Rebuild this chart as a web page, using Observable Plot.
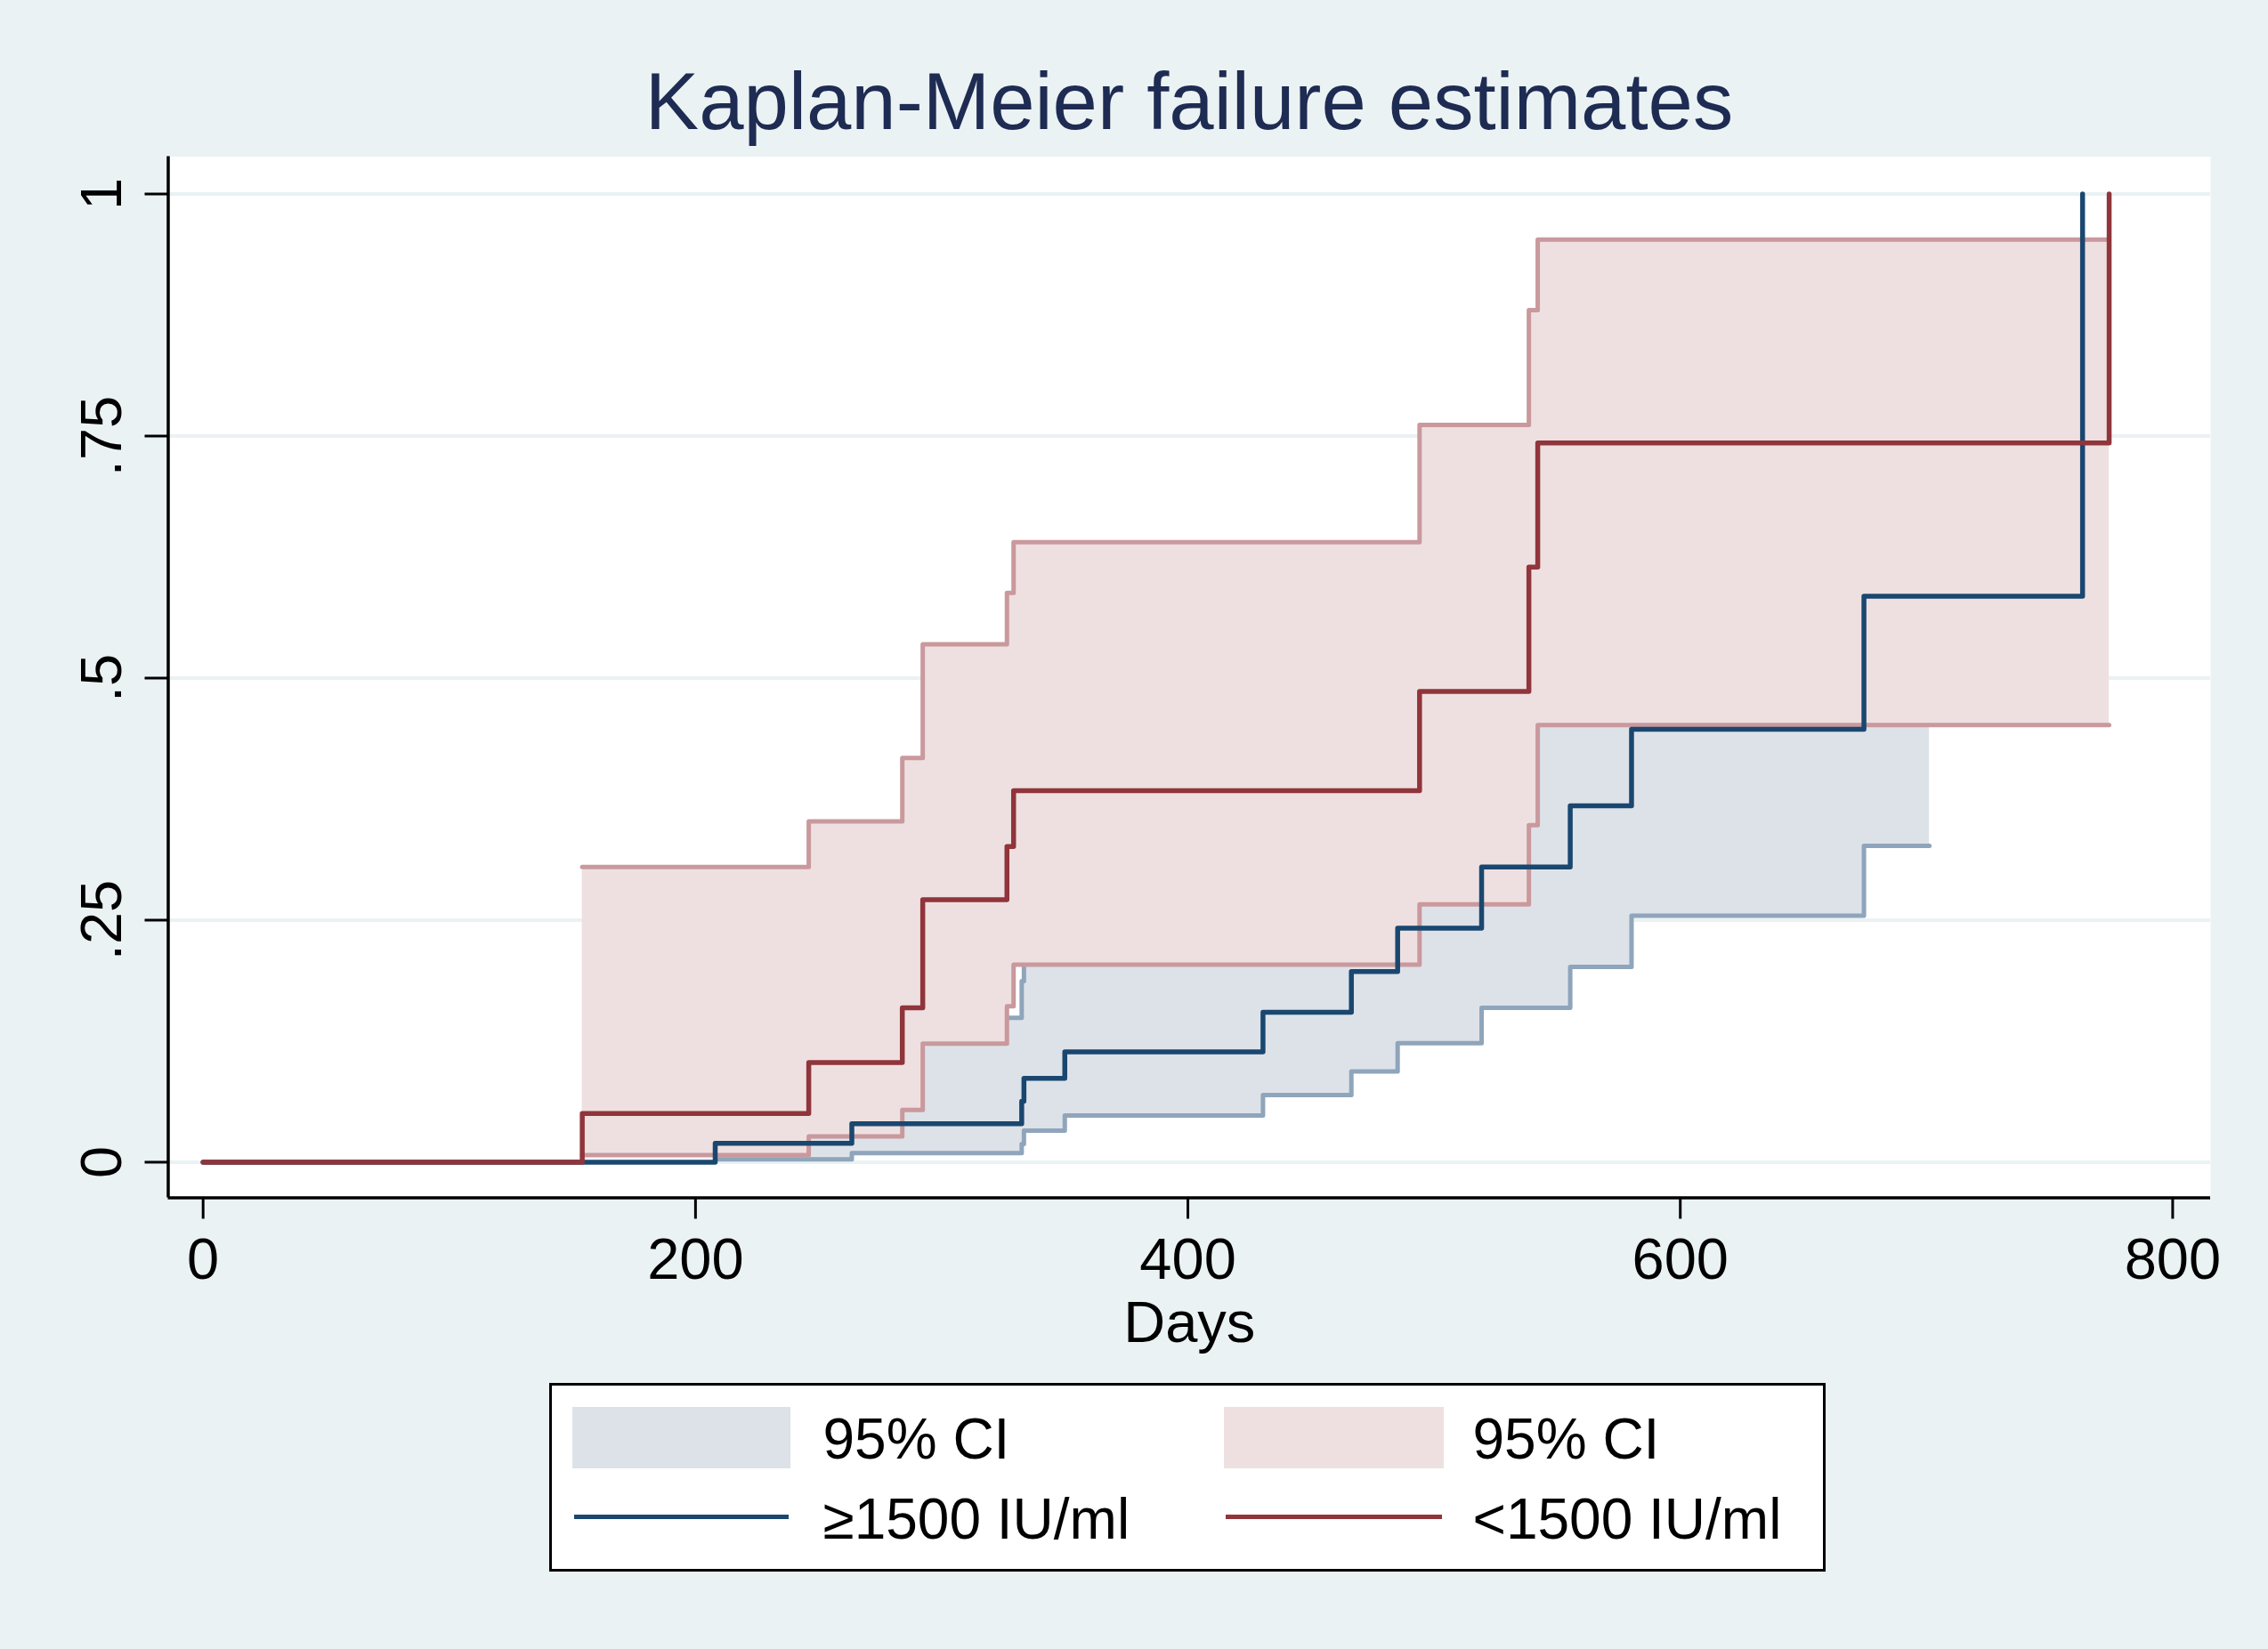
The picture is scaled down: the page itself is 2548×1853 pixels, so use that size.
<!DOCTYPE html>
<html>
<head>
<meta charset="utf-8">
<script src="https://cdn.jsdelivr.net/npm/d3@7"></script>
<script src="https://cdn.jsdelivr.net/npm/@observablehq/plot@0.6"></script>
<style>
html,body{margin:0;padding:0;background:#eaf2f3;}
#page{position:relative;width:2548px;height:1853px;background:#eaf2f3;overflow:hidden;font-family:"Liberation Sans",Arial,Helvetica,sans-serif;}
#title{position:absolute;left:1336px;top:68.8px;transform:translateX(-50%);font-size:90.5px;line-height:1;color:#1e2b52;white-space:nowrap;}
#chart{position:absolute;left:0;top:160px;}
#legend{position:absolute;left:617px;top:1554px;width:1434px;height:212px;box-sizing:border-box;border:3.5px solid #000;background:#fff;}
.sw{position:absolute;}
.lt{position:absolute;font-size:64px;line-height:1;color:#000;white-space:nowrap;}
</style>
</head>
<body>
<div id="page">
  <div id="title">Kaplan-Meier failure estimates</div>
  <div id="chart"></div>
  <div id="legend"></div>
</div>
<script>
// ---- axis ticks ----
const xTicks = [0, 200, 400, 600, 800];
const yTicks = [0, 0.25, 0.5, 0.75, 1];
const yTickLabels = ["0", ".25", ".5", ".75", "1"];

// ---- legend labels ----
const legendCI = "95% CI";
const groupLabels = ["\u22651500 IU/ml", "<1500 IU/ml"];

// ---- group ≥1500 IU/ml : failure estimate ----
const hiTime = [0, 208, 263.5, 332.5, 333.4, 350, 430.5, 466.4, 485.2, 519.3, 555.3, 580.2, 674.6, 763.4];
const hiFail = [0, 0.0196, 0.0398, 0.063, 0.0867, 0.114, 0.1548, 0.197, 0.2416, 0.305, 0.368, 0.4472, 0.5845, 1];
// ---- group ≥1500 IU/ml : 95% CI ----
const hiCiTime = [208, 263.5, 332.5, 333.4, 350, 430.5, 466.4, 485.2, 519.3, 555.3, 580.2, 674.6, 701.2];
const hiLower  = [0.003, 0.0095, 0.0187, 0.0327, 0.0482, 0.0693, 0.0938, 0.1229, 0.1595, 0.2017, 0.2545, 0.3268, 0.3268];
const hiUpper  = [0.13, 0.149, 0.187, 0.24, 0.28, 0.33, 0.38, 0.43, 0.50, 0.57, 0.64, 0.78, 0.78];

// ---- group <1500 IU/ml : failure estimate ----
const loTime = [0, 154, 246, 284, 292.3, 326.5, 329.2, 494.1, 538.5, 542.1, 774.2];
const loFail = [0, 0.0502, 0.103, 0.1595, 0.271, 0.326, 0.3837, 0.4862, 0.6147, 0.7429, 1];
// ---- group <1500 IU/ml : 95% CI ----
const loCiTime = [154, 246, 284, 292.3, 326.5, 329.2, 494.1, 538.5, 542.1, 774.2];
const loLower  = [0.0073, 0.0266, 0.054, 0.1225, 0.161, 0.204, 0.2664, 0.348, 0.4516, 0.4516];
const loUpper  = [0.305, 0.352, 0.4175, 0.535, 0.588, 0.6404, 0.7614, 0.880, 0.953, 0.953];

const colors = {
  hiLine: "#1a476f", loLine: "#90353b",
  hiFill: "#dde2e9", loFill: "#eee0e1",
  hiCiLine: "#8fa5bb", loCiLine: "#c9999d",
  grid: "#eaf2f3"
};

const hiEst = hiTime.map((t, i) => ({t, v: hiFail[i]}));
const loEst = loTime.map((t, i) => ({t, v: loFail[i]}));
const hiCI = hiCiTime.map((t, i) => ({t, lo: hiLower[i], hi: hiUpper[i]}));
const loCI = loCiTime.map((t, i) => ({t, lo: loLower[i], hi: loUpper[i]}));

const xDomain = [-14.17, 815.4];
const yDomain = [-0.0368, 1.0386];

const chart = Plot.plot({
  width: 2548,
  height: 1370,
  marginLeft: 188.5,
  marginRight: 65,
  marginTop: 15.5,
  marginBottom: 184.5,
  style: {background: "transparent", fontFamily: "'Liberation Sans', Arial, Helvetica, sans-serif", fontSize: "64px", color: "#000"},
  x: {domain: xDomain},
  y: {domain: yDomain},
  marks: [
    Plot.frame({fill: "white", stroke: "none"}),
    Plot.gridY(yTicks, {stroke: colors.grid, strokeOpacity: 1, strokeWidth: 4}),
    Plot.areaY(hiCI, {x: "t", y1: "lo", y2: "hi", curve: "step-after", fill: colors.hiFill}),
    Plot.line(hiCI, {x: "t", y: "lo", curve: "step-after", stroke: colors.hiCiLine, strokeWidth: 5}),
    Plot.line(hiCI, {x: "t", y: "hi", curve: "step-after", stroke: colors.hiCiLine, strokeWidth: 5}),
    Plot.areaY(loCI, {x: "t", y1: "lo", y2: "hi", curve: "step-after", fill: colors.loFill}),
    Plot.line(loCI, {x: "t", y: "lo", curve: "step-after", stroke: colors.loCiLine, strokeWidth: 5}),
    Plot.line(loCI, {x: "t", y: "hi", curve: "step-after", stroke: colors.loCiLine, strokeWidth: 5}),
    Plot.line(hiEst, {x: "t", y: "v", curve: "step-after", stroke: colors.hiLine, strokeWidth: 5.5}),
    Plot.line(loEst, {x: "t", y: "v", curve: "step-after", stroke: colors.loLine, strokeWidth: 5.5}),
    Plot.ruleX([xDomain[0]], {stroke: "#000", strokeWidth: 3.5}),
    Plot.ruleY([yDomain[0]], {stroke: "#000", strokeWidth: 3.5}),
    Plot.axisX({ticks: xTicks, tickSize: 24, tickPadding: 20.5, tickFormat: d => String(d), label: null, fontSize: 65, strokeWidth: 3}),
    Plot.axisY({ticks: yTicks, tickSize: 26, tickFormat: () => "", label: null, strokeWidth: 3}),
    Plot.text(yTicks, {y: d => d, text: (d, i) => yTickLabels[i], frameAnchor: "left", dx: -53.5, rotate: -90, lineAnchor: "bottom", textAnchor: "middle", fontSize: 65, fill: "#000"}),
    Plot.text(["Days"], {text: d => d, frameAnchor: "bottom", dy: 161.5, lineAnchor: "bottom", fontSize: 65, fill: "#000"})
  ]
});
document.getElementById("chart").appendChild(chart);

// ---- legend (HTML, below the plot) ----
const legend = document.getElementById("legend");
function add(cls, style, text) {
  const el = document.createElement("div");
  el.className = cls;
  Object.assign(el.style, style);
  if (text != null) el.textContent = text;
  legend.appendChild(el);
}
add("sw", {left: "22.5px", top: "23.5px", width: "245px", height: "69px", background: colors.hiFill});
add("sw", {left: "754.5px", top: "23.5px", width: "247px", height: "69px", background: colors.loFill});
add("sw", {left: "24.5px", top: "144.5px", width: "241px", height: "5.5px", background: colors.hiLine});
add("sw", {left: "756.5px", top: "144.5px", width: "243px", height: "5.5px", background: colors.loLine});
add("lt", {left: "304.5px", top: "28.3px"}, legendCI);
add("lt", {left: "1034.5px", top: "28.3px"}, legendCI);
add("lt", {left: "304.5px", top: "118.3px"}, groupLabels[0]);
add("lt", {left: "1034.5px", top: "118.3px"}, groupLabels[1]);
</script>
</body>
</html>
